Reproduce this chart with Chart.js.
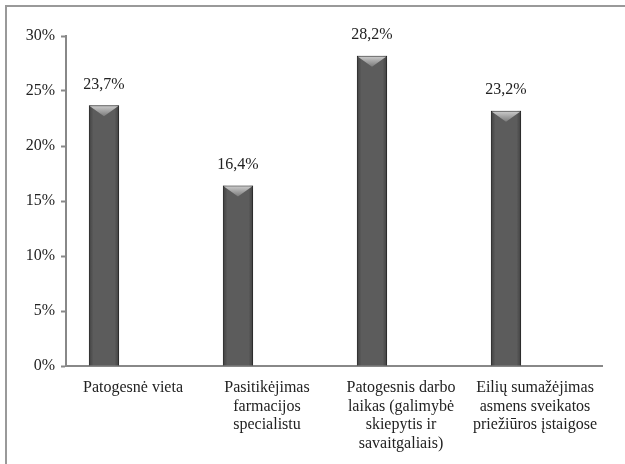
<!DOCTYPE html>
<html lang="lt">
<head>
<meta charset="utf-8">
<script src="https://cdn.jsdelivr.net/npm/chart.js@4/dist/chart.umd.min.js"></script>
<style>
  html, body { margin: 0; padding: 0; background: #fff; }
  .wrap { position: relative; width: 625px; height: 464px; }
  .frame {
    position: absolute; left: 5px; top: 5px; right: 0; bottom: 0;
    border-top: 2px solid #999; border-left: 2px solid #999;
    pointer-events: none;
  }
</style>
</head>
<body>
<div class="wrap">
  <canvas id="myChart" width="625" height="464"></canvas>
  <div class="frame"></div>
</div>
<script>
// categories (wrapped into lines) and the share for each
const categories = [
  ["Patogesnė vieta"],
  ["Pasitikėjimas", "farmacijos", "specialistu"],
  ["Patogesnis darbo", "laikas (galimybė", "skiepytis ir", "savaitgaliais)"],
  ["Eilių sumažėjimas", "asmens sveikatos", "priežiūros įstaigose"]
];
const shares = [23.7, 16.4, 28.2, 23.2];
// empty slot beside each bar, keeps the bars left of the label like the 3D layout
const depthSlot = [null, null, null, null];
const yTicks = [0, 5, 10, 15, 20, 25, 30];

const serif = "'Liberation Serif', 'Times New Roman', serif";
const textColor = "#222";

// lighter bevel at the top of each bar + value labels
const barDecor = {
  id: "barDecor",
  beforeDatasetsDraw(chart) {
    const ctx = chart.ctx;
    ctx.save();
    ctx.shadowColor = "rgba(0,0,0,0.35)";
    ctx.shadowBlur = 6;
    ctx.shadowOffsetX = 1;
    ctx.shadowOffsetY = 1;
  },
  afterDatasetsDraw(chart) {
    const ctx = chart.ctx;
    ctx.restore();
    const meta = chart.getDatasetMeta(0);
    meta.data.forEach((bar, i) => {
      const half = bar.width / 2;
      const left = bar.x - half, right = bar.x + half;
      const top = bar.y;
      // side shading
      const s = ctx.createLinearGradient(left, 0, right, 0);
      s.addColorStop(0, "rgba(0,0,0,0.3)");
      s.addColorStop(0.15, "rgba(0,0,0,0)");
      s.addColorStop(0.85, "rgba(0,0,0,0)");
      s.addColorStop(1, "rgba(0,0,0,0.3)");
      ctx.save();
      ctx.fillStyle = s;
      ctx.fillRect(left, top, bar.width, bar.base - top);
      // bevel
      const g = ctx.createLinearGradient(0, top, 0, top + 11);
      g.addColorStop(0, "#cfcfcf");
      g.addColorStop(1, "#7a7a7a");
      ctx.fillStyle = g;
      ctx.beginPath();
      ctx.moveTo(left + 1, top + 1);
      ctx.lineTo(right - 1, top + 1);
      ctx.lineTo(bar.x, top + 11);
      ctx.closePath();
      ctx.fill();
      ctx.restore();

      // value label
      ctx.save();
      ctx.font = "16px " + serif;
      ctx.fillStyle = textColor;
      ctx.textAlign = "center";
      ctx.textBaseline = "middle";
      const txt = shares[i].toFixed(1).replace(".", ",") + "%";
      ctx.fillText(txt, bar.x, top - 21);
      ctx.restore();
    });
  }
};

const ctx = document.getElementById("myChart").getContext("2d");
const myChart = new Chart(ctx, {
  type: "bar",
  data: {
    labels: categories,
    datasets: [
      {
        data: shares,
        backgroundColor: "#5c5c5c",
        borderColor: "#3a3a3a",
        borderWidth: 1,
        categoryPercentage: 0.866,
        barPercentage: 0.52
      },
      {
        data: depthSlot,
        backgroundColor: "rgba(0,0,0,0)",
        categoryPercentage: 0.866,
        barPercentage: 0.52
      }
    ]
  },
  options: {
    responsive: false,
    animation: false,
    layout: { padding: { top: 36, right: 23, bottom: 0, left: 0 } },
    plugins: {
      legend: { display: false },
      tooltip: { enabled: false }
    },
    scales: {
      x: {
        grid: { display: false },
        border: { color: "#888", width: 2 },
        ticks: {
          color: textColor,
          font: { family: serif, size: 16, lineHeight: 1.15 },
          padding: 5,
          maxRotation: 0,
          autoSkip: false
        },
        afterFit: (s) => { s.height = 98; }
      },
      y: {
        min: 0,
        max: 30,
        afterBuildTicks: (s) => { s.ticks = yTicks.map(v => ({ value: v })); },
        grid: {
          drawOnChartArea: false,
          drawTicks: true,
          tickLength: 5,
          tickColor: "#888",
          tickWidth: 2
        },
        border: { color: "#888", width: 2 },
        ticks: {
          color: textColor,
          font: { family: serif, size: 16 },
          padding: 6,
          callback: (v) => v + "%"
        },
        afterFit: (s) => { s.width = 66; }
      }
    }
  },
  plugins: [barDecor]
});
</script>
</body>
</html>
